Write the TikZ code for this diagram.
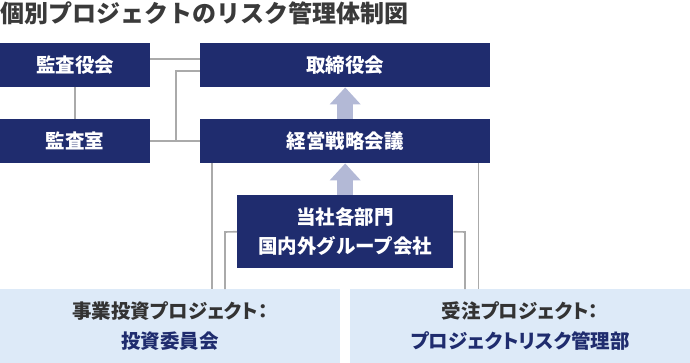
\documentclass[tikz,border=0pt]{standalone}
\usepackage{fontspec}
\setmainfont{Noto Sans CJK JP}
\newfontfamily\jppalt{Noto Sans CJK JP}[RawFeature={+palt}]
\usetikzlibrary{arrows.meta}
\definecolor{navy}{HTML}{1F2C6E}
\definecolor{lightbox}{HTML}{DDEAF8}
\definecolor{arrowc}{HTML}{B3B9D6}
\definecolor{connc}{HTML}{AAAAAA}
\definecolor{titlec}{HTML}{3A3A3A}
\definecolor{textdark}{HTML}{333333}
\begin{document}
\begin{tikzpicture}[x=1pt,y=-1pt,
  box/.style={fill=navy,text=white,font=\fontsize{19.5}{20}\selectfont\bfseries,inner sep=0pt,anchor=north west},
  lbox/.style={fill=lightbox,text=textdark,font=\jppalt\fontsize{19.5}{30}\selectfont\bfseries,inner sep=0pt,anchor=north west,align=center},
  conn/.style={draw=connc,line width=1.6pt},
  uparrow/.style={draw=arrowc,line width=16pt,-{Triangle[width=30pt,length=17pt]}}
]
\useasboundingbox (0,0) rectangle (690,363);
\node[anchor=west,text=titlec,font=\fontsize{24}{26}\selectfont\bfseries,inner sep=0pt] (title) at (0,13) {個別プロジェクトのリスク管理体制図};
\node[box,minimum width=150pt,minimum height=44pt] (kansa) at (0,43) {監査役会};
\node[box,minimum width=290pt,minimum height=44pt] (tori) at (200,43) {取締役会};
\node[box,minimum width=150pt,minimum height=44pt] (shitsu) at (0,119) {監査室};
\node[box,minimum width=290pt,minimum height=44pt] (keiei) at (200,119) {経営戦略会議};
\node[box,minimum width=216pt,minimum height=73pt,align=center,font=\fontsize{19.5}{29}\selectfont\bfseries] (tosha) at (237,195) {当社各部門\\国内外グループ会社};
\node[lbox,minimum width=340pt,minimum height=74pt] (jigyo) at (0,289) {事業投資プロジェクト：\\\textcolor{navy}{投資委員会}};
\node[lbox,minimum width=340pt,minimum height=74pt] (juchu) at (350,289) {受注プロジェクト：\\\textcolor{navy}{プロジェクトリスク管理部}};
% connectors
\draw[conn] ([yshift=6pt]kansa.east) -- ([yshift=6pt]tori.west);
\draw[conn] (kansa.south) -- (shitsu.north);
\draw[conn] (shitsu.east) -- (keiei.west);
\coordinate (mid) at (176,141);
\draw[conn] (mid) |- ([yshift=-6pt]tori.west);
\draw[conn] ([xshift=12pt]keiei.south west) -- ([xshift=12pt]keiei.south west |- jigyo.north);
\draw[conn] ([xshift=-12pt]keiei.south east) -- ([xshift=-12pt]keiei.south east |- juchu.north);
\coordinate (tl) at (225,232);
\coordinate (tr) at (465,232);
\draw[conn] (tosha.west) -- (tl) -- (tl |- jigyo.north);
\draw[conn] (tosha.east) -- (tr) -- (tr |- juchu.north);
% arrows
\draw[uparrow] (keiei.north) -- (tori.south);
\draw[uparrow] (tosha.north) -- (keiei.south);
\end{tikzpicture}
\end{document}
